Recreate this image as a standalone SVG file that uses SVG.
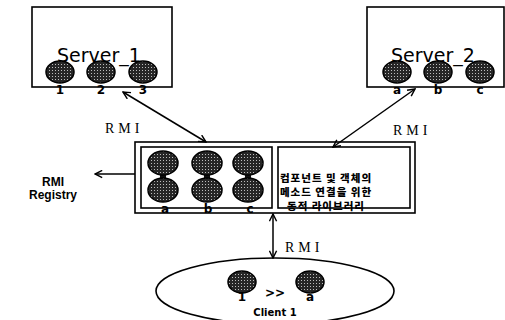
<svg xmlns="http://www.w3.org/2000/svg" width="505" height="320" viewBox="0 0 505 320">
<defs>
<pattern id="dots" width="3" height="3" patternUnits="userSpaceOnUse">
<rect width="3" height="3" fill="#262626"/>
<rect x="1" y="1" width="1" height="1" fill="#bdbdbd"/>
</pattern>
<marker id="ah" viewBox="0 0 10 10" refX="9" refY="5" markerWidth="9" markerHeight="9" orient="auto-start-reverse" markerUnits="userSpaceOnUse">
<path d="M1,1 L9,5 L1,9" fill="none" stroke="#000" stroke-width="1.6"/>
</marker>
</defs>
<style>
.box{fill:#fff;stroke:#000;stroke-width:1.6}
.ball{fill:url(#dots);stroke:#000;stroke-width:1.5}
.srv{font-family:"DejaVu Sans",sans-serif;font-size:19px;fill:#000}
.cli{font-family:"DejaVu Sans",sans-serif;font-size:10px;font-weight:bold;fill:#000;text-anchor:middle}
.lbl{font-family:"DejaVu Sans",sans-serif;font-weight:bold;font-size:12px;fill:#000;text-anchor:middle}
.rmi{font-family:"Liberation Serif",serif;font-size:14px;letter-spacing:4px;fill:#000}
.kr{font-family:"Noto Sans CJK KR",sans-serif;font-weight:900;font-size:10.5px;fill:#000;text-anchor:middle;letter-spacing:1px}
.reg{font-family:"Liberation Sans",sans-serif;font-weight:bold;font-size:12px;fill:#000;text-anchor:middle}
.conn{stroke:#000;stroke-width:1.5;fill:none}
</style>
<rect width="505" height="320" fill="#fff"/>

<g id="server1">
<rect class="box" x="32" y="7" width="140" height="80"/>
<text class="srv" x="57" y="62">Server_1</text>
<ellipse class="ball" cx="60" cy="72" rx="14" ry="11"/>
<ellipse class="ball" cx="101" cy="72" rx="14" ry="11"/>
<ellipse class="ball" cx="143" cy="72" rx="14" ry="11"/>
<text class="lbl" x="60" y="94">1</text>
<text class="lbl" x="101" y="94">2</text>
<text class="lbl" x="143" y="94">3</text>
</g>

<g id="server2">
<rect class="box" x="367" y="7" width="137" height="80"/>
<text class="srv" x="391" y="62">Server_2</text>
<ellipse class="ball" cx="397" cy="72" rx="14" ry="11"/>
<ellipse class="ball" cx="438" cy="72" rx="14" ry="11"/>
<ellipse class="ball" cx="480" cy="72" rx="14" ry="11"/>
<text class="lbl" x="397" y="94">a</text>
<text class="lbl" x="438" y="94">b</text>
<text class="lbl" x="480" y="94">c</text>
</g>

<g id="middle">
<rect class="box" x="135" y="142" width="280" height="71"/>
<rect class="box" x="141" y="147" width="131" height="61"/>
<rect class="box" x="278" y="147" width="132" height="61"/>
<rect x="160" y="170" width="6" height="12" fill="#111"/>
<rect x="204" y="170" width="6" height="12" fill="#111"/>
<rect x="245" y="170" width="6" height="12" fill="#111"/>
<ellipse class="ball" cx="163" cy="163" rx="15" ry="12"/>
<ellipse class="ball" cx="207" cy="163" rx="15" ry="12"/>
<ellipse class="ball" cx="248" cy="163" rx="15" ry="12"/>
<ellipse class="ball" cx="163" cy="190" rx="15" ry="12"/>
<ellipse class="ball" cx="207" cy="190" rx="15" ry="12"/>
<ellipse class="ball" cx="248" cy="190" rx="15" ry="12"/>
<text class="lbl" x="165" y="213">a</text>
<text class="lbl" x="208" y="213">b</text>
<text class="lbl" x="250" y="213">c</text>
<text class="kr" x="326" y="182">컴포넌트 및 객체의</text>
<text class="kr" x="326" y="196">메소드 연결을 위한</text>
<text class="kr" x="326" y="210">동적 라이브러리</text>
</g>

<g id="registry">
<text class="reg" x="53" y="186">RMI</text>
<text class="reg" x="53" y="199">Registry</text>
</g>

<g id="client">
<ellipse class="box" cx="275" cy="291" rx="119" ry="33"/>
<ellipse class="ball" cx="242" cy="282" rx="14" ry="11"/>
<ellipse class="ball" cx="310" cy="282" rx="14" ry="11"/>
<text class="lbl" x="242" y="301">1</text>
<text class="lbl" x="275" y="297">&gt;&gt;</text>
<text class="lbl" x="310" y="301">a</text>
<text class="cli" x="275" y="316">Client 1</text>
</g>

<g id="connectors">
<line class="conn" x1="123" y1="92" x2="206" y2="142" marker-start="url(#ah)" marker-end="url(#ah)"/>
<line class="conn" x1="415" y1="89" x2="333" y2="147" marker-start="url(#ah)" marker-end="url(#ah)"/>
<line class="conn" x1="135" y1="174" x2="95" y2="174" marker-end="url(#ah)"/>
<line class="conn" x1="273" y1="214" x2="273" y2="258" marker-start="url(#ah)" marker-end="url(#ah)"/>
<text class="rmi" x="105" y="133">RMI</text>
<text class="rmi" x="393" y="135">RMI</text>
<text class="rmi" x="285" y="252">RMI</text>
</g>
</svg>
